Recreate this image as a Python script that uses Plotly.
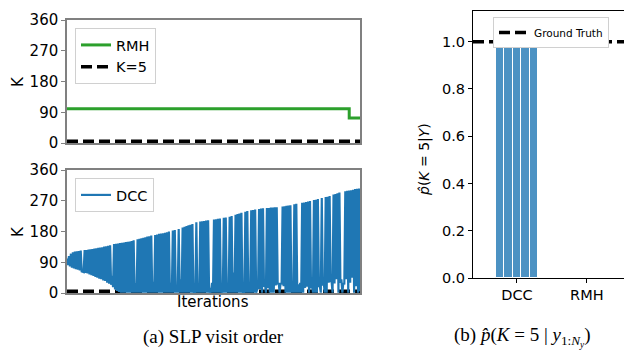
import plotly.graph_objects as go

# page body has an 8px default margin; the figure is sized to fill the rest of the 632x352 window
OFF = 8
W, H = 632 - OFF, 352 - OFF

# ---------------- data ----------------
iterations = list(range(150))
dcc_upper = [
    101, 108, 115, 119, 121, 122, 123, 124, 62, 126,
    126, 127, 128, 129, 130, 131, 132, 133, 134, 136,
    137, 138, 140, 50, 143, 144, 145, 146, 147, 148,
    149, 150, 151, 152, 154, 28, 157, 159, 160, 162,
    163, 165, 166, 168, 33, 170, 171, 173, 174, 175,
    176, 178, 180, 30, 183, 184, 20, 187, 40, 192,
    194, 196, 198, 200, 202, 5, 207, 20, 209, 210,
    211, 212, 213, 15, 30, 215, 216, 217, 218, 10,
    220, 221, 25, 223, 225, 60, 229, 231, 233, 235,
    5, 238, 240, 20, 242, 243, 244, 10, 246, 247,
    248, 25, 249, 249, 250, 250, 251, 251, 30, 30,
    253, 254, 255, 256, 257, 20, 260, 261, 25, 30,
    264, 265, 266, 268, 269, 30, 272, 273, 275, 20,
    278, 30, 281, 282, 284, 35, 288, 290, 292, 294,
    40, 30, 298, 299, 300, 301, 302, 304, 305, 306,
]
dcc_lower = [
    82, 78, 74, 72, 70, 68, 66, 63, 61, 59,
    57, 54, 52, 50, 47, 45, 42, 40, 37, 35,
    30, 27, 24, 17, 10, 6, 3, 1, 1, 1,
    1, 1, 1, 1, 1, 1, 1, 1, 1, 1,
    1, 1, 1, 1, 1, 1, 1, 1, 1, 1,
    1, 1, 1, 1, 1, 1, 1, 1, 1, 1,
    1, 1, 1, 1, 1, 1, 1, 1, 1, 1,
    1, 1, 1, 1, 1, 1, 1, 1, 1, 1,
    1, 1, 1, 1, 1, 1, 1, 1, 1, 1,
    1, 1, 1, 1, 1, 1, 1, 15, 12, 1,
    18, 1, 14, 1, 1, 1, 22, 25, 1, 25,
    20, 1, 1, 1, 1, 1, 1, 1, 1, 1,
    1, 15, 18, 1, 14, 1, 1, 1, 20, 1,
    22, 1, 1, 30, 35, 1, 28, 40, 1, 30,
    1, 25, 40, 1, 30, 45, 1, 20, 1, 5,
]
rmh_iter = [0, 144, 149.5]
rmh_k = [100, 73, 73]
true_k = 5
left_yticks = [0, 90, 180, 270, 360]

bar_labels = ["DCC", "RMH"]
dcc_probs = [0.99, 0.985, 0.995, 0.993, 0.995]
rmh_probs = [0, 0, 0, 0, 0]
right_yticks = [0.0, 0.2, 0.4, 0.6, 0.8, 1.0]
ground_truth = 1.0

# ---------------- build ----------------
xs, ys = [], []
for i, hi, lo in zip(iterations, dcc_upper, dcc_lower):
    xs += [i, i + 0.5]
    ys += [hi, lo]

x_end = iterations[-1] + 0.5

fig = go.Figure()

# top panel
fig.add_trace(go.Scatter(x=rmh_iter, y=rmh_k, mode="lines", line=dict(color="#2ca02c", width=3, shape="hv"),
                         name="RMH", xaxis="x", yaxis="y", legend="legend"))
fig.add_trace(go.Scatter(x=[0, x_end], y=[true_k, true_k], mode="lines",
                         line=dict(color="black", width=3.5, dash="11px,5px"),
                         name="K=5", xaxis="x", yaxis="y", legend="legend"))
# bottom panel
fig.add_trace(go.Scatter(x=[0, x_end], y=[true_k, true_k], mode="lines",
                         line=dict(color="black", width=3.5, dash="11px,5px"),
                         showlegend=False, xaxis="x2", yaxis="y2"))
fig.add_trace(go.Scatter(x=xs, y=ys, mode="lines", line=dict(color="#1f77b4", width=2.2, simplify=False),
                         name="DCC", xaxis="x2", yaxis="y2", legend="legend2"))

# right panel
offsets = [-0.24, -0.12, 0.0, 0.12, 0.24]
for ci, probs in enumerate([dcc_probs, rmh_probs]):
    fig.add_trace(go.Bar(x=[ci + o for o in offsets], y=probs, width=0.12,
                         marker=dict(color="rgba(31,119,180,0.8)", line=dict(color="white", width=1)),
                         showlegend=False, xaxis="x3", yaxis="y3"))
fig.add_trace(go.Scatter(x=[-0.63, 1.59], y=[ground_truth, ground_truth], mode="lines",
                         line=dict(color="black", width=3.5, dash="11px,5px"),
                         name="Ground Truth", xaxis="x3", yaxis="y3", legend="legend3"))


def px(x):
    return (x - OFF) / W


def py(y):
    return 1 - (y - OFF) / H


tickfont = dict(family="DejaVu Sans", size=15, color="black")
gray = "#808080"

left_dom = [px(67), px(360)]
common_left_x = dict(domain=left_dom, range=[0, x_end], showticklabels=False, ticks="", automargin=False,
                     showgrid=False, zeroline=False, showline=True, linecolor=gray, linewidth=1.5, mirror=True)
common_left_y = dict(range=[0, 360], tickvals=left_yticks, ticks="outside", ticklen=4, tickcolor=gray,
                     tickwidth=1.2, tickfont=tickfont, showgrid=False, zeroline=False, showline=True,
                     linecolor=gray, linewidth=1.5, mirror=True, automargin=False)

fig.update_layout(
    width=W, height=H, margin=dict(l=0, r=0, t=0, b=0, autoexpand=False),
    paper_bgcolor="white", plot_bgcolor="white", bargap=0,
    xaxis=dict(**common_left_x, anchor="y"),
    yaxis=dict(**common_left_y, domain=[py(143), py(20)], anchor="x"),
    xaxis2=dict(**common_left_x, anchor="y2"),
    yaxis2=dict(**common_left_y, domain=[py(293), py(170)], anchor="x2"),
    xaxis3=dict(domain=[px(473), px(628)], range=[-0.63, 1.59], tickvals=[0, 1], ticktext=bar_labels,
                ticks="outside", ticklen=4, tickcolor="black", tickfont=dict(family="DejaVu Sans", size=14.5, color="black"),
                showgrid=False, zeroline=False, showline=True, linecolor="black", linewidth=1, mirror=True,
                anchor="y3", automargin=False),
    yaxis3=dict(domain=[py(278), py(11)], range=[0, 1.13], tickvals=right_yticks, tickformat=".1f",
                ticks="outside", ticklen=4, tickcolor="black", tickfont=dict(family="DejaVu Sans", size=14.5, color="black"),
                showgrid=False, zeroline=False, showline=True, linecolor="black", linewidth=1, mirror=True,
                anchor="x3", automargin=False),
    legend=dict(x=px(75), y=py(28), xanchor="left", yanchor="top", bgcolor="white", bordercolor="#d0d0d0",
                borderwidth=1, font=dict(family="DejaVu Sans", size=14.5, color="black"), tracegroupgap=2),
    legend2=dict(x=px(75), y=py(178), xanchor="left", yanchor="top", bgcolor="white", bordercolor="#d0d0d0",
                 borderwidth=1, font=dict(family="DejaVu Sans", size=14.5, color="black")),
    legend3=dict(x=px(493), y=py(17), xanchor="left", yanchor="top", bgcolor="white", bordercolor="#d0d0d0",
                 borderwidth=1, font=dict(family="DejaVu Sans", size=10.5, color="black")),
)

ann = [
    dict(text="K", x=px(18), y=py(82), textangle=-90, font=dict(family="DejaVu Sans", size=15)),
    dict(text="K", x=px(18), y=py(232), textangle=-90, font=dict(family="DejaVu Sans", size=15)),
    dict(text="Iterations", x=px(213), y=py(302), font=dict(family="DejaVu Sans", size=15)),
    dict(text="<i>p̂</i>(<i>K</i> = 5|<i>Y</i>)", x=px(424), y=py(160), textangle=-90,
         font=dict(family="DejaVu Sans", size=14)),
    dict(text="(a) SLP visit order", x=px(213), y=py(337), font=dict(family="Liberation Serif", size=19)),
    dict(text="(b) <i>p̂</i>(<i>K</i> = 5 | <i>y</i><sub>1:<i>N<sub>y</sub></i></sub>)", x=px(522), y=py(337),
         font=dict(family="Liberation Serif", size=19)),
]
for a in ann:
    a.update(xref="paper", yref="paper", showarrow=False, xanchor="center", yanchor="middle")
    a["font"]["color"] = "black"
fig.update_layout(annotations=ann)

fig.write_html("out.html")
